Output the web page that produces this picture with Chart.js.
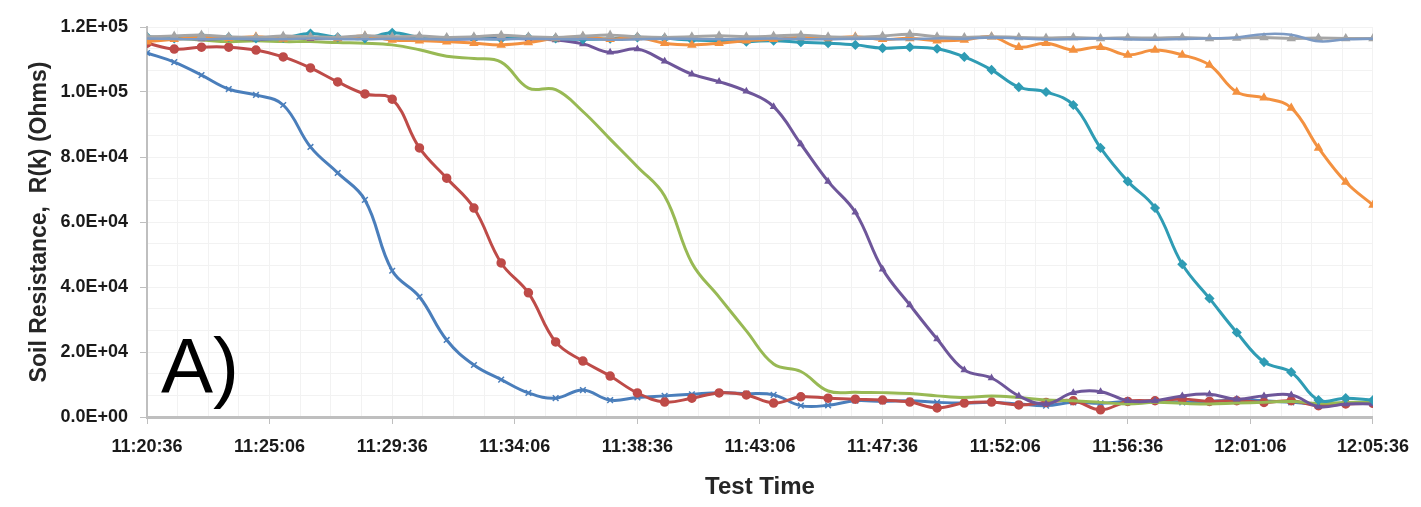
<!DOCTYPE html>
<html>
<head>
<meta charset="utf-8">
<script src="https://cdn.jsdelivr.net/npm/chart.js@4.4.1/dist/chart.umd.min.js"></script>
<style>
  html, body { margin: 0; padding: 0; background: #fff; }
  #wrap { position: relative; width: 1421px; height: 507px; }
  #panel { position: absolute; left: 161px; top: 327px; font: 78px "Liberation Sans", Arial, sans-serif; line-height: 1; color: #000; }
</style>
</head>
<body>
<div id="wrap">
  <canvas id="soilChart" width="1421" height="507"></canvas>
  <div id="panel">A)</div>
</div>
<script>
// minutes after 11:20:36, one reading per minute
const minutes = [0,1,2,3,4,5,6,7,8,9,10,11,12,13,14,15,16,17,18,19,20,21,22,23,24,25,26,27,28,29,30,31,32,33,34,35,36,37,38,39,40,41,42,43,44,45];

const timeTicks = ['11:20:36','11:25:06','11:29:36','11:34:06','11:38:36','11:43:06','11:47:36','11:52:06','11:56:36','12:01:06','12:05:36'];

const sensor1 = [112000,109200,105200,100900,99100,96000,83100,75100,66800,45000,37000,23700,16000,11500,7400,5800,8300,5200,6000,6500,7000,7500,7200,6800,3500,3600,5000,4800,5000,4500,4300,4500,4000,3500,4500,4200,4800,5000,4500,4800,5200,5000,4500,4000,4300,4500];
const sensor2 = [115000,113200,113800,113800,112900,110800,107400,103100,99400,97800,82800,73500,64300,47400,38200,23100,17200,12600,7400,4600,5800,7400,6800,4300,6200,5800,5500,5200,4600,2800,4300,4600,3700,4500,5000,2200,4800,5000,5500,4800,5000,4500,5000,3500,4000,4200];
const sensor3 = [116000,116500,116000,115500,115800,115500,115500,115200,115000,114500,113000,111000,110300,109200,101200,100700,94000,85500,77000,68000,47400,36900,26500,16300,14000,8000,7600,7500,7200,6500,6000,6500,6000,5200,5000,4500,4000,4500,4200,4000,4300,4500,4800,4200,4500,4500];
const sensor4 = [116500,116800,116300,116500,116200,116600,116400,116500,116800,116300,116500,116200,116400,116600,116300,116000,114800,112200,113200,109500,105500,103200,100200,95500,84000,72500,63000,45500,34500,24000,14500,12000,6500,4000,7500,7800,5000,5000,6500,7000,5500,6500,6800,3200,4000,4000];
const sensor5 = [117000,116500,117200,116800,116500,116600,118000,116800,116500,118200,116800,116400,116500,116300,116800,116500,116200,116400,116800,116500,116000,115800,115500,115800,115300,115000,114500,113500,113800,113300,110800,106800,101500,100000,96000,82800,72500,64300,47000,36500,26000,16900,13800,5200,5800,5200];
const sensor6 = [115500,116200,116800,116500,117000,116300,116800,116500,117200,116000,115800,115500,115000,114500,115200,116500,117000,116200,116800,115000,114500,115000,115800,116200,116800,116500,117000,116200,116500,115800,116000,117000,113800,115000,112900,113800,111400,112900,111400,108300,100000,98200,95100,82800,72300,65200];
const sensor7 = [117000,117200,117500,117000,116800,117200,117000,116800,117300,117000,117200,116800,117000,117500,117000,116800,117200,117500,117000,116800,117000,117300,117000,117200,117500,117000,116800,117200,117800,117000,116800,117000,116800,116600,116800,116500,116700,116600,116800,116500,116600,116800,116500,116600,116500,116500];
const control = [116500,116300,116200,116400,116300,116200,116500,116300,116200,116400,116300,116100,116300,116200,116400,116200,116300,116100,116200,116400,116300,116200,116300,116500,116300,116200,116400,116300,116200,116500,116400,116800,116500,116200,116300,116500,116200,116100,116300,116500,116800,117800,117600,115600,116200,116400];

const seriesList = [
  { name: 'Sensor 1', values: sensor1, color: '#4A7EBB', marker: 'crossRot', r: 4 },
  { name: 'Sensor 2', values: sensor2, color: '#BE4B48', marker: 'circle', r: 4 },
  { name: 'Sensor 3', values: sensor3, color: '#98B954', marker: 'circle', r: 0 },
  { name: 'Sensor 4', values: sensor4, color: '#6E569A', marker: 'triangle', r: 3 },
  { name: 'Sensor 5', values: sensor5, color: '#2F9CB4', marker: 'rectRot', r: 4 },
  { name: 'Sensor 6', values: sensor6, color: '#F39140', marker: 'triangle', r: 4 },
  { name: 'Sensor 7', values: sensor7, color: '#A5A5A5', marker: 'triangle', r: 4 },
  { name: 'Control', values: control, color: '#7C9AC4', marker: 'circle', r: 0 }
];

function sci(v) {
  if (v === 0) return '0.0E+00';
  const e = Math.floor(Math.log10(v) + 1e-9);
  const m = v / Math.pow(10, e);
  return m.toFixed(1) + 'E+' + String(e).padStart(2, '0');
}

const datasets = seriesList.map((s, i) => ({
  label: s.name,
  data: minutes.map((m, j) => ({ x: m, y: s.values[j] })),
  borderColor: s.color,
  backgroundColor: s.color,
  borderWidth: i === 7 ? 2.5 : 3,
  pointStyle: s.marker,
  pointRadius: s.r,
  pointBorderWidth: 1.5,
  tension: 0.4,
  order: -i,
  xAxisID: 'x',
  yAxisID: 'y'
}));

const axisColor = '#BFBFBF';
const tickFont = { family: '"Liberation Sans", Arial, sans-serif', size: 18, weight: 'bold' };

new Chart(document.getElementById('soilChart'), {
  type: 'line',
  data: { datasets: datasets },
  options: {
    responsive: false,
    animation: false,
    devicePixelRatio: 1,
    layout: { padding: { top: 27, right: 45, left: 0, bottom: 0 } },
    plugins: { legend: { display: false }, tooltip: { enabled: false } },
    scales: {
      x: {
        type: 'linear',
        position: 'bottom',
        min: 0,
        max: 45,
        afterFit: (scale) => { scale.height = 90; },
        ticks: {
          stepSize: 4.5,
          padding: 12,
          color: '#1a1a1a',
          font: tickFont,
          maxRotation: 0,
          callback: (v) => timeTicks[Math.round(v / 4.5)]
        },
        grid: { color: '#EAEAEA', tickColor: axisColor, tickLength: 7 },
        border: { color: axisColor, width: 3 },
        title: {
          display: true,
          text: 'Test Time',
          color: '#262626',
          font: { family: '"Liberation Sans", Arial, sans-serif', size: 24, weight: 'bold' },
          padding: { top: 0, bottom: 5 }
        }
      },
      y: {
        position: 'left',
        min: 0,
        max: 120000,
        afterFit: (scale) => { scale.width = 147; },
        ticks: {
          stepSize: 20000,
          padding: 12,
          color: '#1a1a1a',
          font: tickFont,
          callback: (v) => sci(v)
        },
        grid: { color: '#EAEAEA', tickColor: axisColor, tickLength: 7 },
        border: { color: axisColor, width: 2 },
        title: {
          display: true,
          text: 'Soil Resistance,  R(k) (Ohms)',
          color: '#262626',
          font: { family: '"Liberation Sans", Arial, sans-serif', size: 23, weight: 'bold' },
          padding: { top: 26, bottom: 0 }
        }
      },
      x2: {
        type: 'linear',
        position: 'top',
        min: 0,
        max: 45,
        afterFit: (scale) => { scale.height = 0; },
        ticks: { stepSize: 1.125, display: false },
        grid: { color: '#F2F2F2', drawTicks: false },
        border: { display: false }
      },
      y2: {
        position: 'right',
        min: 0,
        max: 120000,
        afterFit: (scale) => { scale.width = 0; },
        ticks: { stepSize: 20000 / 3, display: false },
        grid: { color: '#F2F2F2', drawTicks: false },
        border: { display: false }
      }
    }
  }
});
</script>
</body>
</html>
